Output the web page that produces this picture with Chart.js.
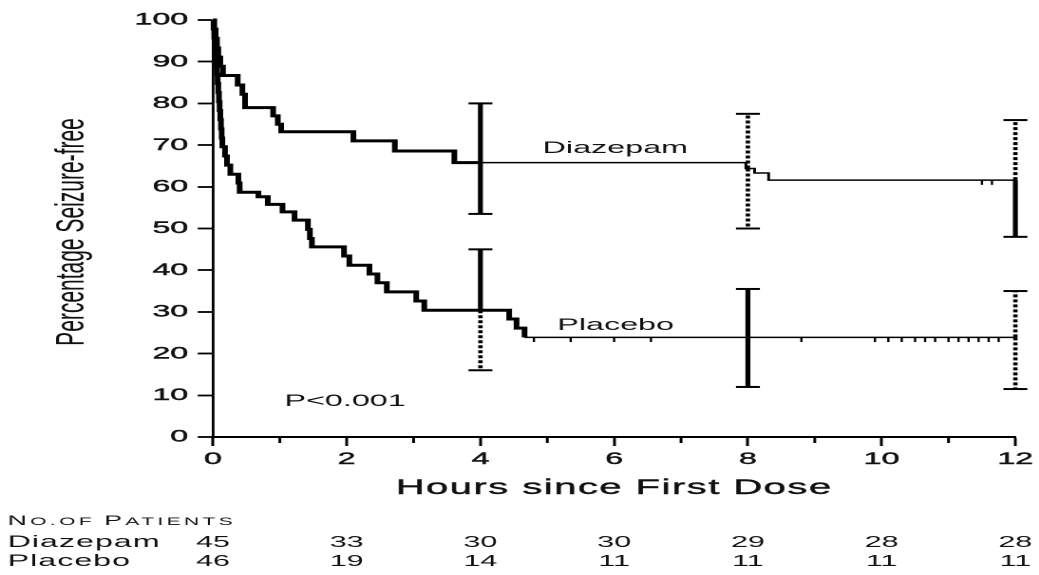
<!DOCTYPE html>
<html>
<head>
<meta charset="utf-8">
<script src="https://cdn.jsdelivr.net/npm/chart.js@4.4.1/dist/chart.umd.min.js"></script>
<style>
  html, body { margin: 0; padding: 0; background: #fff; overflow: hidden; }
  /* the figure is laid out on a narrow canvas and widened horizontally */
  #wrap { position: absolute; left: 0; top: 0; width: 547px; height: 575px;
          transform: scaleX(1.8995); transform-origin: 0 0; }
</style>
</head>
<body>
<div id="wrap"><canvas id="km"></canvas></div>
<script>
// Kaplan-Meier estimates: hours since first dose and percentage seizure-free
const diazepamHours = [0, 0.02, 0.04, 0.06, 0.08, 0.11, 0.15, 0.37, 0.44, 0.48, 0.90, 0.97, 1.02, 2.10, 2.72, 3.61, 4.0, 7.97, 8.10, 8.31, 12];
const diazepamPct   = [100, 97.8, 95.6, 93.3, 91.1, 88.9, 86.7, 84.4, 82.2, 79.0, 77.0, 75.0, 73.2, 71.0, 68.6, 65.8, 65.8, 64.4, 63.3, 61.6, 61.6];

const placeboHours = [0, 0.01, 0.02, 0.03, 0.04, 0.05, 0.06, 0.07, 0.08, 0.09, 0.10, 0.11, 0.12, 0.13, 0.14, 0.18, 0.21, 0.26, 0.38, 0.40, 0.68, 0.82, 1.04, 1.22, 1.42, 1.45, 1.48, 1.96, 2.04, 2.34, 2.46, 2.60, 3.04, 3.16, 4.43, 4.54, 4.66, 12];
const placeboPct   = [100, 97.8, 95.7, 93.5, 91.3, 89.1, 87.0, 84.8, 82.6, 80.4, 78.3, 76.1, 73.9, 71.7, 69.6, 67.4, 65.2, 63.0, 60.9, 58.7, 57.6, 55.8, 54.0, 52.0, 49.8, 47.6, 45.6, 43.4, 41.2, 39.1, 37.0, 34.8, 32.6, 30.4, 28.3, 26.1, 23.9, 23.9];

// 95% confidence limits at 4, 8 and 12 hours
const ciHours       = [4, 8, 12];
const diazepamUpper = [80.0, 77.5, 76.0];
const diazepamLower = [53.5, 50.0, 48.0];
const placeboUpper  = [45.0, 35.5, 35.0];
const placeboLower  = [16.0, 12.0, 11.5];

// censored observations (hours)
const diazepamCensored = [11.5, 11.65];
const placeboCensored  = [4.8, 5.35, 6.0, 6.55, 8.8, 9.9, 10.1, 10.3, 10.5, 10.65, 10.8, 11.0, 11.15, 11.3, 11.45, 11.6, 11.75];

// numbers at risk
const riskHours      = [0, 2, 4, 6, 8, 10, 12];
const diazepamAtRisk = [45, 33, 30, 30, 29, 28, 28];
const placeboAtRisk  = [46, 19, 14, 11, 11, 11, 11];

const FONT = "'Liberation Sans', Arial, Helvetica, sans-serif";
const INK = '#111';

function steps(hours, pct) { return hours.map((h, i) => ({ x: h, y: pct[i] })); }
function valueAt(hours, pct, t) {
  let v = pct[0];
  for (let i = 0; i < hours.length; i++) if (hours[i] <= t) v = pct[i];
  return v;
}

const datasets = [
  {
    label: 'Diazepam', data: steps(diazepamHours, diazepamPct), stepped: true,
    borderColor: '#000', pointRadius: 0, fill: false, clip: false,
    segment: { borderWidth: ctx => diazepamHours[ctx.p1DataIndex] <= 4.0 ? 3 : 1.5 }
  },
  {
    label: 'Placebo', data: steps(placeboHours, placeboPct), stepped: true,
    borderColor: '#000', pointRadius: 0, fill: false, clip: false,
    segment: { borderWidth: ctx => placeboHours[ctx.p1DataIndex] <= 4.7 ? 3 : 1.5 }
  },
  {
    label: 'Diazepam censored', showLine: false, clip: false,
    data: diazepamCensored.map(t => ({ x: t, y: valueAt(diazepamHours, diazepamPct, t) - 0.6 })),
    pointStyle: 'line', rotation: 90, pointRadius: 2.2, pointBorderWidth: 1.2, pointBorderColor: '#000'
  },
  {
    label: 'Placebo censored', showLine: false, clip: false,
    data: placeboCensored.map(t => ({ x: t, y: valueAt(placeboHours, placeboPct, t) - 0.6 })),
    pointStyle: 'line', rotation: 90, pointRadius: 2.2, pointBorderWidth: 1.2, pointBorderColor: '#000'
  }
];

// confidence bars: each half (towards the upper and lower limit) gets its own stroke style
const barStyle = {
  Diazepam: [['solid', 'solid'], ['dot', 'dot'], ['dot', 'solid']],
  Placebo:  [['solid', 'dot'],   ['solid', 'solid'], ['dot', 'dot']]
};
function addBars(name, hours, pct, upper, lower) {
  ciHours.forEach((h, i) => {
    const centre = valueAt(hours, pct, h);
    [upper[i], lower[i]].forEach((lim, k) => {
      const dotted = barStyle[name][i][k] === 'dot';
      datasets.push({
        label: name + ' CI', clip: false, fill: false,
        data: [{ x: h, y: centre }, { x: h, y: lim }],
        borderColor: '#000', borderWidth: dotted ? 2.3 : 2.6,
        borderDash: dotted ? [3, 2] : [],
        pointStyle: 'line', pointRadius: [0, 6.3], pointBorderWidth: 2, pointBorderColor: '#000'
      });
    });
  });
}
addBars('Diazepam', diazepamHours, diazepamPct, diazepamUpper, diazepamLower);
addBars('Placebo', placeboHours, placeboPct, placeboUpper, placeboLower);

// titles, curve labels, minor ticks and the at-risk table
const annotations = {
  id: 'annotations',
  afterDraw(chart) {
    const { ctx, scales: { x, y }, chartArea } = chart;
    ctx.save();
    ctx.fillStyle = INK;
    ctx.strokeStyle = '#000';

    // odd-hour minor ticks
    ctx.lineWidth = 1.5;
    for (let h = 1; h < 12; h += 2) {
      const px = x.getPixelForValue(h);
      ctx.beginPath();
      ctx.moveTo(px, chartArea.bottom);
      ctx.lineTo(px, chartArea.bottom + 6);
      ctx.stroke();
    }

    // axis titles
    ctx.textAlign = 'center';
    ctx.textBaseline = 'alphabetic';
    ctx.font = '21px ' + FONT;
    ctx.letterSpacing = '0.8px';
    ctx.strokeStyle = INK;
    ctx.lineWidth = 0.4;
    const titleX = (chartArea.left + chartArea.right) / 2;
    ctx.fillText('Hours since First Dose', titleX, 494);
    ctx.strokeText('Hours since First Dose', titleX, 494);
    ctx.letterSpacing = '0px';
    ctx.save();
    ctx.translate(38, 232);
    ctx.rotate(-Math.PI / 2);
    ctx.textBaseline = 'middle';
    ctx.fillText('Percentage Seizure-free', 0, 0);
    ctx.restore();

    // curve labels and p value
    ctx.textAlign = 'left';
    ctx.font = '17px ' + FONT;
    ctx.fillText('Diazepam', x.getPixelForValue(4.93), y.getPixelForValue(68.1));
    ctx.fillText('Placebo', x.getPixelForValue(5.15), y.getPixelForValue(25.7));
    ctx.fillText('P<0.001', x.getPixelForValue(1.07), y.getPixelForValue(7.4));

    // "No. of Patients" header in small capitals
    ctx.letterSpacing = '1.8px';
    let cx = 4;
    [['N', 14], ['O.OF ', 11], ['P', 14], ['ATIENTS', 11]].forEach(([t, s]) => {
      ctx.font = s + 'px ' + FONT;
      ctx.fillText(t, cx, 525);
      cx += ctx.measureText(t).width;
    });

    // numbers at risk
    ctx.letterSpacing = '0.5px';
    ctx.font = '17px ' + FONT;
    ctx.fillText('Diazepam', 4, 547);
    ctx.fillText('Placebo', 4, 566);
    ctx.letterSpacing = '0px';
    ctx.font = '16px ' + FONT;
    ctx.textAlign = 'center';
    riskHours.forEach((h, i) => {
      const px = x.getPixelForValue(h);
      ctx.fillText(String(diazepamAtRisk[i]), px, 547);
      ctx.fillText(String(placeboAtRisk[i]), px, 566);
    });
    ctx.restore();
  }
};

const tickFont = { family: FONT, size: 17 };

new Chart(document.getElementById('km'), {
  type: 'line',
  data: { datasets },
  options: {
    responsive: true,
    maintainAspectRatio: false,
    devicePixelRatio: 2,
    animation: false,
    events: [],
    layout: { padding: { left: 0, right: 11.6, top: 20, bottom: 105 } },
    plugins: { legend: { display: false }, tooltip: { enabled: false } },
    scales: {
      x: {
        type: 'linear', min: 0, max: 12,
        ticks: { stepSize: 2, color: INK, font: tickFont, textStrokeColor: INK, textStrokeWidth: 0.4,
                 padding: 3, maxRotation: 0, autoSkip: false },
        grid: { drawOnChartArea: false, drawTicks: true, tickLength: 9, tickColor: '#000', tickWidth: 1.5 },
        border: { display: true, color: '#000', width: 2 },
        afterFit: s => { s.height = 33; }
      },
      y: {
        min: 0, max: 100,
        ticks: { stepSize: 10, color: INK, font: tickFont, textStrokeColor: INK, textStrokeWidth: 0.4, padding: 5 },
        grid: { drawOnChartArea: false, drawTicks: true, tickLength: 8, tickColor: '#000', tickWidth: 1.8 },
        border: { display: true, color: '#000', width: 1.4 },
        afterFit: s => { s.width = 112.1; }
      }
    }
  },
  plugins: [annotations]
});
</script>
</body>
</html>
